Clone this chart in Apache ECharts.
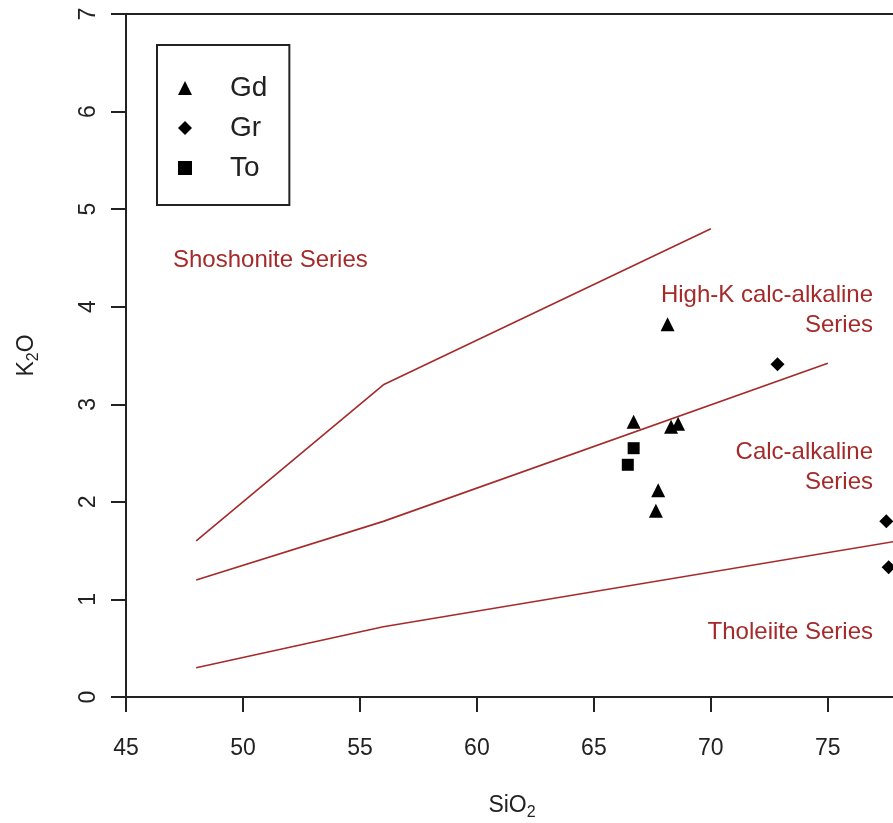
<!DOCTYPE html>
<html>
<head>
<meta charset="utf-8">
<script src="https://cdn.jsdelivr.net/npm/echarts@6/dist/echarts.min.js"></script>
<style>
  html, body { margin: 0; padding: 0; background: #fff; }
  #chart { width: 893px; height: 823px; }
</style>
</head>
<body>
<div id="chart"></div>
<script>
// K2O vs SiO2 classification diagram (Peccerillo & Taylor style boundaries)
const xTicks = [45, 50, 55, 60, 65, 70, 75];
const yTicks = [0, 1, 2, 3, 4, 5, 6, 7];

// Boundary lines [SiO2, K2O]
const shoshoniteBoundary = [[48, 1.6], [56, 3.2], [70, 4.8]];
const highKBoundary = [[48, 1.2], [56, 1.8], [75, 3.42]];
const tholeiiteBoundary = [[48, 0.3], [56, 0.72], [78, 1.6]];

// Samples [SiO2, K2O]
const gd = [[68.15, 3.82], [66.7, 2.82], [68.3, 2.77], [68.6, 2.8], [67.75, 2.12], [67.65, 1.91]];
const gr = [[72.85, 3.41], [77.5, 1.8], [77.6, 1.33]];
const to = [[66.7, 2.55], [66.45, 2.38]];

const FONT = 'Liberation Sans, Arial, sans-serif';
const BROWN = '#A52A2A';
const INK = '#222222';

const chart = echarts.init(document.getElementById('chart'), null, { renderer: 'canvas' });

function boundary(name, data) {
  return {
    name: name, type: 'line', data: data, symbol: 'none', silent: true,
    lineStyle: { color: BROWN, width: 1.6 }, z: 2
  };
}
function samples(name, data, symbol, size) {
  return {
    name: name, type: 'scatter', data: data, symbol: symbol, symbolSize: size,
    itemStyle: { color: '#000', opacity: 1 }, z: 3
  };
}

chart.setOption({
  animation: false,
  backgroundColor: '#fff',
  grid: {
    left: 126, top: 14, width: 772, height: 683, outerBoundsMode: 'none', containLabel: false,
    show: true, borderColor: INK, borderWidth: 2, backgroundColor: 'transparent'
  },
  xAxis: {
    type: 'value', min: 45, max: 78, interval: 5,
    splitLine: { show: false },
    axisLine: { show: true, lineStyle: { color: INK, width: 2 } },
    axisTick: { show: true, length: 15, lineStyle: { color: INK, width: 2 } },
    axisLabel: { margin: 40, fontSize: 23, color: INK, fontFamily: FONT, showMaxLabel: false },
    name: '{n|SiO}{s|2}', nameLocation: 'middle', nameGap: 94,
    nameTextStyle: { color: INK, fontFamily: FONT, rich: {
      n: { fontSize: 23, fontFamily: FONT, color: INK },
      s: { fontSize: 16, fontFamily: FONT, color: INK, padding: [14, 0, 0, 0] }
    } }
  },
  yAxis: {
    type: 'value', min: 0, max: 7, interval: 1,
    splitLine: { show: false },
    axisLine: { show: true, lineStyle: { color: INK, width: 2 } },
    axisTick: { show: true, length: 15, lineStyle: { color: INK, width: 2 } },
    axisLabel: { margin: 26, rotate: 90, fontSize: 23, color: INK, fontFamily: FONT },
    name: '{n|K}{s|2}{n|O}', nameLocation: 'middle', nameGap: 84, nameRotate: 90,
    nameTextStyle: { color: INK, fontFamily: FONT, rich: {
      n: { fontSize: 23, fontFamily: FONT, color: INK },
      s: { fontSize: 16, fontFamily: FONT, color: INK, padding: [14, 0, 0, 0] }
    } }
  },
  legend: {
    orient: 'vertical', left: 157, top: 45,
    data: [
      { name: 'Gd', icon: 'triangle' },
      { name: 'Gr', icon: 'diamond' },
      { name: 'To', icon: 'rect' }
    ],
    itemWidth: 14, itemHeight: 14, itemGap: 10,
    padding: [28, 22, 22, 21],
    borderColor: INK, borderWidth: 2,
    itemStyle: { opacity: 1 },
    textStyle: { fontSize: 28, color: INK, fontFamily: FONT, lineHeight: 30, padding: [0, 0, 0, 33] },
    selectedMode: false
  },
  graphic: [
    { type: 'text', left: 173, top: 262 - 14, style: { text: 'Shoshonite Series', font: '24px ' + FONT, fill: BROWN } },
    { type: 'text', x: 873, y: 310, style: { text: 'High-K calc-alkaline\nSeries', font: '24px ' + FONT, fill: BROWN, align: 'right', verticalAlign: 'middle', lineHeight: 30 } },
    { type: 'text', x: 873, y: 467, style: { text: 'Calc-alkaline\nSeries', font: '24px ' + FONT, fill: BROWN, align: 'right', verticalAlign: 'middle', lineHeight: 30 } },
    { type: 'text', x: 873, y: 632, style: { text: 'Tholeiite Series', font: '24px ' + FONT, fill: BROWN, align: 'right', verticalAlign: 'middle' } }
  ],
  series: [
    boundary('shoshonite', shoshoniteBoundary),
    boundary('highK', highKBoundary),
    boundary('tholeiite', tholeiiteBoundary),
    samples('Gd', gd, 'triangle', 14),
    samples('Gr', gr, 'diamond', 14),
    samples('To', to, 'rect', 12)
  ]
});
</script>
</body>
</html>
